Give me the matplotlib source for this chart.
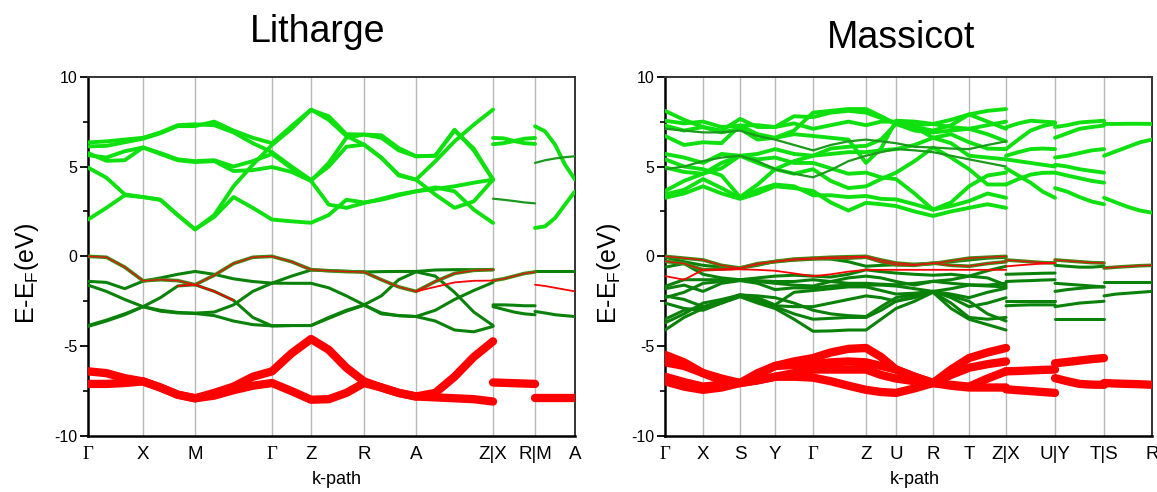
import numpy as np
import matplotlib.pyplot as plt

plt.rcParams['font.family'] = ['Liberation Sans', 'DejaVu Sans']
plt.rcParams['axes.unicode_minus'] = False

# ---------------- Litharge ----------------
lit_ticks = [0, 0.55, 1.07, 1.84, 2.23, 2.76, 3.28, 4.05, 4.47, 4.87]
lit_labels = ['Γ', 'X', 'M', 'Γ', 'Z', 'R', 'A', 'Z|X', 'R|M', 'A']
lit_divs = [3, 3, 4, 2, 3, 3, 4]   # samples per segment, main path Γ ... Z

nan = np.nan

lit_cond = [
    [2.05, 2.7, 3.4, 3.3, 3.15, 2.3, 1.5, 2.2, 3.3, 2.7, 2.05, 1.95, 1.87, 2.3, 3.15, 3.0, 3.15, 3.4, 3.62, 3.84, 3.62, 2.6, 1.86],
    [4.94, 4.38, 3.45, 3.3, 3.15, 2.3, 1.5, 2.3, 3.9, 5.1, 6.2, 7.1, 8.15, 7.8, 6.8, 6.78, 6.74, 6.03, 5.57, 5.6, 7.05, 5.9, 4.27],
    [5.75, 5.32, 5.35, 6.06, 5.7, 5.35, 5.25, 5.3, 4.75, 4.8, 4.97, 4.7, 4.2, 2.88, 2.7, 2.97, 3.2, 3.45, 3.62, 3.75, 3.9, 4.1, 4.27],
    [5.63, 5.5, 5.85, 6.06, 5.75, 5.4, 5.3, 5.35, 5.0, 5.3, 5.7, 4.9, 4.2, 5.2, 6.6, 6.78, 6.6, 5.9, 5.57, 5.6, 7.0, 6.0, 4.27],
    [6.12, 6.15, 6.35, 6.55, 6.85, 7.25, 7.25, 7.5, 7.0, 6.6, 6.3, 7.25, 8.17, 7.6, 6.7, 6.22, 5.48, 4.55, 4.27, 5.29, 6.4, 7.33, 8.17],
    [6.34, 6.4, 6.5, 6.6, 6.9, 7.3, 7.35, 7.3, 6.9, 6.3, 5.8, 5.0, 4.25, 5.0, 6.1, 6.22, 5.5, 4.5, 4.27, 3.44, 2.7, 3.06, 4.27],
]
lit_val = [
    [-1.39, -1.45, -1.8, -1.38, -1.2, -1.0, -0.84, -1.0, -1.25, -1.4, -1.49, -1.1, -0.76, -0.8, -0.83, -0.87, -0.85, -0.84, -0.84, -0.76, -0.74, -0.74, -0.74],
    [-1.6, -1.95, -2.4, -2.8, -2.3, -1.65, -1.58, -1.95, -2.45, -3.4, -3.87, -3.85, -3.85, -3.4, -3.0, -2.7, -3.2, -3.3, -3.35, -3.6, -4.1, -4.2, -3.9],
    [-3.85, -3.55, -3.2, -2.8, -3.0, -3.12, -3.16, -3.1, -2.7, -1.95, -1.49, -1.5, -1.5, -1.75, -2.2, -2.7, -2.2, -1.3, -0.86, -1.1, -2.0, -3.1, -3.85],
    [-3.9, -3.6, -3.25, -2.8, -3.05, -3.15, -3.18, -3.3, -3.6, -3.8, -3.87, -3.85, -3.85, -3.45, -3.05, -2.72, -3.15, -3.3, -3.35, -3.0, -2.4, -1.9, -1.45],
]
lit_rg = [
    [0.0, -0.05, -0.6, -1.36, -1.3, -1.35, -1.58, -1.05, -0.4, -0.05, 0.0, -0.3, -0.74, -0.8, -0.85, -0.87, -1.3, -1.7, -1.95, -1.4, -0.95, -0.78, -0.74],
]
lit_red_thin = [
    [nan, nan, nan, nan, nan, -1.65, -1.58, -1.95, -2.45, nan, nan, nan, nan, nan, nan, nan, nan, nan, -1.95, -1.7, -1.45, -1.36, -1.35],
]
lit_red = [
    [-6.4, -6.5, -6.78, -6.96, -7.3, -7.7, -7.9, -7.6, -7.25, -6.7, -6.4, -5.4, -4.6, -5.2, -6.2, -6.96, -7.3, -7.6, -7.8, -7.6, -6.7, -5.6, -4.73],
    [-7.1, -7.1, -7.05, -6.96, -7.3, -7.7, -7.9, -7.75, -7.45, -7.2, -7.05, -7.5, -7.98, -7.95, -7.6, -7.05, -7.3, -7.6, -7.8, -7.85, -7.9, -7.95, -8.08],
]
# X-R piece
lit_xr_cond = [[6.59, 6.57, 6.42, 6.3, 6.26], [6.24, 6.3, 6.42, 6.55, 6.59]]
lit_xr_dark = [[3.21, 3.15, 3.08, 3.0, 2.95]]
lit_xr_rg = [[-1.35, -1.25, -1.1, -0.95, -0.87]]
lit_xr_val = [[-2.7, -2.7, -2.72, -2.75, -2.75], [-2.8, -2.95, -3.1, -3.2, -3.25]]
lit_xr_red = [[-7.02, -7.04, -7.06, -7.08, -7.1]]
# M-A piece
lit_ma_cond = [[7.24, 6.96, 6.22, 5.1, 4.27], [1.58, 1.67, 2.13, 2.88, 3.62]]
lit_ma_dark = [[5.2, 5.35, 5.45, 5.52, 5.57]]
lit_ma_val = [[-0.84, -0.84, -0.84, -0.84, -0.84], [-3.07, -3.15, -3.25, -3.3, -3.35]]
lit_ma_red_thin = [[-1.58, -1.65, -1.75, -1.85, -1.95]]
lit_ma_red = [[-7.9, -7.9, -7.9, -7.9, -7.9]]

# ---------------- Massicot ----------------
mas_ticks = [0, 0.38, 0.75, 1.10, 1.48, 2.01, 2.31, 2.68, 3.04, 3.41, 3.90, 4.39, 4.87]
mas_labels = ['Γ', 'X', 'S', 'Y', 'Γ', 'Z', 'U', 'R', 'T', 'Z|X', 'U|Y', 'T|S', 'R']
mas_divs = [2, 2, 2, 2, 3, 2, 2, 2, 2]

mas_cond = [
    [3.26, 3.5, 3.9, 3.5, 3.2, 3.5, 3.9, 3.8, 3.64, 3.0, 2.55, 2.98, 2.9, 2.8, 2.5, 2.25, 2.5, 2.7, 2.9, 2.7],
    [3.45, 3.7, 4.3, 3.8, 3.25, 3.7, 4.0, 3.9, 3.4, 3.4, 3.3, 3.36, 3.2, 3.17, 2.9, 2.6, 2.8, 3.08, 3.5, 3.26],
    [3.64, 4.2, 4.6, 4.9, 5.6, 5.2, 4.85, 4.6, 4.85, 4.2, 3.8, 3.9, 4.3, 4.66, 5.3, 6.06, 5.5, 4.85, 4.0, 4.0],
    [4.95, 4.7, 4.6, 5.2, 5.6, 5.4, 5.5, 5.2, 5.2, 4.9, 4.6, 4.66, 4.4, 4.3, 3.5, 2.6, 3.0, 3.9, 4.5, 4.66],
    [5.4, 5.0, 4.85, 4.5, 3.3, 4.0, 4.85, 5.3, 5.6, 5.7, 5.8, 5.8, 5.9, 5.97, 6.2, 6.6, 6.3, 5.6, 5.5, 5.4],
    [5.7, 5.5, 5.2, 5.7, 5.6, 5.7, 5.97, 5.7, 5.6, 6.0, 6.1, 6.15, 6.5, 7.37, 7.2, 6.6, 6.8, 6.35, 6.0, 5.97],
    [6.7, 6.2, 6.35, 6.3, 7.28, 6.8, 6.6, 6.8, 6.7, 6.6, 6.5, 5.2, 6.0, 7.55, 7.5, 7.37, 7.2, 7.1, 6.8, 6.4],
    [7.28, 7.0, 7.2, 7.0, 7.65, 7.2, 7.2, 7.4, 7.1, 7.3, 7.5, 7.3, 7.5, 7.5, 7.3, 7.37, 7.6, 7.9, 7.5, 7.1],
    [7.55, 7.4, 7.5, 7.2, 7.28, 7.3, 7.2, 7.8, 7.75, 8.0, 8.1, 8.0, 7.7, 7.4, 7.2, 7.0, 7.3, 7.9, 8.1, 8.2],
    [8.1, 7.6, 7.2, 6.9, 7.1, 6.5, 6.6, 7.0, 8.0, 8.1, 8.2, 8.2, 7.8, 7.37, 7.0, 6.9, 7.0, 7.1, 7.3, 7.5],
]
mas_dark = [
    [4.85, 5.0, 5.3, 5.5, 5.6, 5.3, 4.85, 4.6, 4.4, 4.8, 5.3, 5.6, 5.8, 5.97, 5.9, 5.8, 5.6, 5.4, 5.2, 5.0],
    [7.1, 7.0, 6.9, 6.9, 7.0, 6.7, 6.5, 6.2, 5.9, 6.2, 6.4, 6.5, 6.4, 6.3, 6.1, 6.06, 6.0, 5.97, 6.2, 6.4],
]
mas_val = [
    [-0.05, -0.3, -0.5, -0.6, -0.65, -0.5, -0.28, -0.2, -0.1, -0.15, -0.3, -0.55, -0.5, -0.47, -0.45, -0.4, -0.3, -0.2, -0.1, -0.05],
    [-0.6, -0.4, -1.0, -1.2, -1.3, -1.2, -1.1, -1.05, -1.1, -1.15, -1.0, -0.75, -0.85, -0.93, -1.0, -1.05, -1.0, -1.1, -0.8, -0.55],
    [-1.67, -1.3, -1.3, -1.3, -1.3, -1.35, -1.4, -1.4, -1.3, -1.4, -1.5, -1.5, -1.55, -1.58, -1.5, -1.39, -1.5, -1.58, -1.6, -1.5],
    [-1.8, -1.6, -1.95, -1.5, -1.35, -1.5, -1.85, -1.75, -1.77, -1.65, -1.6, -1.6, -1.6, -1.65, -1.8, -1.95, -1.8, -1.6, -1.65, -1.7],
    [-2.2, -2.4, -2.8, -2.5, -2.13, -2.3, -2.7, -2.0, -1.9, -1.8, -1.7, -1.7, -1.9, -2.1, -2.05, -1.95, -2.1, -2.3, -2.0, -1.77],
    [-2.6, -2.9, -3.0, -2.6, -2.2, -2.4, -2.75, -2.8, -2.8, -2.6, -2.4, -2.2, -2.3, -2.5, -2.3, -1.95, -2.3, -2.8, -2.6, -2.3],
    [-3.5, -3.0, -2.85, -2.5, -2.2, -2.5, -2.8, -3.2, -3.5, -3.45, -3.4, -3.4, -3.0, -2.5, -2.2, -2.0, -2.6, -3.4, -3.5, -3.4],
    [-4.1, -3.4, -2.9, -2.6, -2.25, -2.6, -2.9, -3.5, -4.17, -4.15, -4.1, -4.1, -3.5, -2.9, -2.5, -2.0, -2.9, -3.5, -3.8, -4.1],
    [-2.3, -2.0, -1.5, -1.4, -1.3, -1.4, -1.5, -1.6, -1.65, -1.4, -1.2, -1.1, -1.2, -1.4, -1.6, -1.39, -1.3, -1.1, -1.2, -1.6],
    [-3.7, -3.2, -2.6, -2.4, -2.15, -2.2, -2.3, -2.6, -3.0, -3.2, -3.3, -3.35, -2.8, -2.3, -2.1, -1.95, -2.2, -2.5, -3.2, -3.6],
]
mas_rg = [
    [0.0, -0.1, -0.2, -0.5, -0.65, -0.45, -0.28, -0.15, -0.1, -0.05, -0.02, 0.0, -0.2, -0.37, -0.45, -0.4, -0.25, -0.1, -0.05, 0.0],
    [-0.28, -0.4, -0.75, -0.7, -0.65, -0.4, -0.3, -0.2, -0.15, -0.12, -0.1, -0.05, -0.3, -0.47, -0.5, -0.37, -0.5, -0.55, -0.4, -0.3],
]
mas_red_thin = [
    [-1.1, -1.3, -0.75, -0.75, -0.72, -0.75, -0.8, -0.95, -1.1, -1.0, -0.85, -0.75, -0.75, -0.75, -0.75, -0.75, -0.75, -0.75, -0.75, -0.75],
]
mas_red = [
    [-5.48, -5.9, -6.5, -6.8, -7.05, -6.6, -6.1, -5.85, -5.66, -5.35, -5.15, -5.1, -5.6, -6.3, -6.7, -7.05, -6.3, -5.66, -5.35, -5.1],
    [-5.9, -6.1, -6.5, -6.9, -7.05, -6.5, -6.1, -6.05, -6.0, -5.9, -5.85, -5.9, -6.1, -6.3, -6.7, -7.05, -6.6, -6.2, -6.0, -5.85],
    [-6.7, -7.0, -7.25, -7.15, -7.05, -6.9, -6.7, -6.5, -6.3, -6.3, -6.3, -6.3, -6.6, -6.8, -6.95, -7.05, -7.15, -7.25, -6.8, -6.4],
    [-6.96, -7.25, -7.43, -7.3, -7.05, -6.9, -6.7, -6.7, -6.75, -6.95, -7.2, -7.43, -7.55, -7.6, -7.35, -7.05, -7.2, -7.3, -7.3, -7.3],
]
# X-U piece
mas_xu_cond = [[7.18, 7.4, 7.55, 7.5, 7.46], [5.97, 6.5, 7.0, 7.25, 7.4], [5.6, 5.8, 5.97, 6.0, 5.97],
               [5.4, 5.3, 5.2, 5.1, 5.0], [4.9, 4.5, 4.1, 3.6, 3.26], [4.0, 4.3, 4.55, 4.65, 4.66]]
mas_xu_rg = [[-0.2, -0.25, -0.3, -0.35, -0.37]]
mas_xu_red_thin = [[-0.56, -0.5, -0.45, -0.4, -0.37]]
mas_xu_val = [[-1.0, -0.98, -0.96, -0.94, -0.93], [-1.4, -1.37, -1.35, -1.32, -1.3],
              [-2.5, -2.5, -2.5, -2.5, -2.5], [-2.75, -2.72, -2.7, -2.7, -2.7]]
mas_xu_red = [[-6.4, -6.38, -6.35, -6.32, -6.3], [-7.4, -7.45, -7.5, -7.55, -7.6]]
# Y-T piece
mas_yt_cond = [[7.2, 7.3, 7.45, 7.5, 7.55], [6.6, 6.85, 7.1, 7.2, 7.28], [5.5, 5.6, 5.75, 5.9, 5.97],
               [5.1, 5.0, 4.85, 4.75, 4.66], [4.66, 4.5, 4.35, 4.2, 4.1], [3.8, 3.6, 3.3, 3.05, 2.9]]
mas_yt_rg = [[-0.2, -0.25, -0.3, -0.35, -0.37]]
mas_yt_val = [[-0.5, -0.55, -0.6, -0.6, -0.55], [-1.5, -1.55, -1.6, -1.65, -1.7], [-1.95, -1.85, -1.78, -1.72, -1.7],
              [-2.8, -2.7, -2.6, -2.55, -2.5], [-3.5, -3.5, -3.5, -3.5, -3.5]]
mas_yt_red = [[-5.95, -5.88, -5.8, -5.72, -5.66], [-6.78, -6.95, -7.1, -7.14, -7.15]]
# S-R piece
mas_sr_cond = [[7.37, 7.37, 7.38, 7.38, 7.37], [5.6, 5.85, 6.1, 6.35, 6.5], [3.26, 3.0, 2.75, 2.55, 2.43]]
mas_sr_rg = [[-0.65, -0.6, -0.56, -0.52, -0.5]]
mas_sr_val = [[-1.4, -1.4, -1.4, -1.4, -1.4], [-2.2, -2.1, -2.05, -2.0, -1.95]]
mas_sr_red = [[-7.05, -7.08, -7.1, -7.12, -7.15]]


def kgrid(ticks, i0, divs):
    ks = [ticks[i0]]
    for j, n in enumerate(divs):
        ks.extend(np.linspace(ticks[i0 + j], ticks[i0 + j + 1], n + 1)[1:])
    return np.array(ks)


BRIGHT = '#0fe00f'
DARK = '#0a820a'
RED = '#ff0000'


def draw_piece(ax, k, cond=(), dark=(), val=(), rg=(), red_thin=(), red=()):
    kw = dict(solid_capstyle='round', solid_joinstyle='round')
    for e in cond:
        ax.plot(k, e, color=BRIGHT, lw=2.8, zorder=3, **kw)
    for e in dark:
        ax.plot(k, e, color='#1a9a1a', lw=1.6, zorder=3, **kw)
    for e in val:
        ax.plot(k, e, color=DARK, lw=2.2, zorder=3, **kw)
    for e in rg:
        ax.plot(k, e, color='#3f8a12', lw=2.6, zorder=4, **kw)
        ax.plot(k, e, color='#e81010', lw=0.9, zorder=5, **kw)
    for e in red_thin:
        ax.plot(k, e, color=RED, lw=1.3, zorder=5, **kw)
    for e in red:
        ax.plot(k, e, color=RED, lw=6, zorder=4, **kw)


def style_axes(ax, ticks, labels):
    ax.set_xlim(ticks[0], ticks[-1])
    ax.set_ylim(-10, 10)
    for t in ticks[1:-1]:
        ax.axvline(t, color='#b8b8b8', lw=1.0, zorder=1)
    ax.set_xticks(ticks)
    ax.set_xticklabels(labels, fontsize=13.5)
    for lab in ax.get_xticklabels():
        if lab.get_text() == 'Γ':
            lab.set_fontfamily('Liberation Serif')
    ax.set_yticks([-10, -5, 0, 5, 10])
    ax.set_yticks([-7.5, -2.5, 2.5, 7.5], minor=True)
    ax.tick_params(axis='x', length=0, pad=7)
    ax.tick_params(axis='y', which='major', length=6, width=1.3, labelsize=11.5, pad=1.5)
    ax.tick_params(axis='y', which='minor', length=3.5, width=1.2)
    for s in ['left', 'bottom']:
        ax.spines[s].set_linewidth(1.8)
    for s in ['top', 'right']:
        ax.spines[s].set_linewidth(1.4)
        ax.spines[s].set_color('#333333')


fig = plt.figure(figsize=(11.57, 4.92), dpi=100)
ax1 = fig.add_axes([0.0761, 0.1138, 0.4209, 0.7303])
ax2 = fig.add_axes([0.5748, 0.1138, 0.4209, 0.7303])

# Litharge
k_main = kgrid(lit_ticks, 0, lit_divs)
draw_piece(ax1, k_main, cond=lit_cond, val=lit_val, rg=lit_rg, red_thin=lit_red_thin, red=lit_red)
k_xr = kgrid(lit_ticks, 7, [4])
draw_piece(ax1, k_xr, cond=lit_xr_cond, dark=lit_xr_dark, val=lit_xr_val, rg=lit_xr_rg, red=lit_xr_red)
k_ma = kgrid(lit_ticks, 8, [4])
draw_piece(ax1, k_ma, cond=lit_ma_cond, dark=lit_ma_dark, val=lit_ma_val, red_thin=lit_ma_red_thin, red=lit_ma_red)
style_axes(ax1, lit_ticks, lit_labels)

# Massicot
k_main = kgrid(mas_ticks, 0, mas_divs)
draw_piece(ax2, k_main, cond=mas_cond, dark=mas_dark, val=mas_val, rg=mas_rg, red_thin=mas_red_thin, red=mas_red)
k_xu = kgrid(mas_ticks, 9, [4])
draw_piece(ax2, k_xu, cond=mas_xu_cond, val=mas_xu_val, rg=mas_xu_rg, red_thin=mas_xu_red_thin, red=mas_xu_red)
k_yt = kgrid(mas_ticks, 10, [4])
draw_piece(ax2, k_yt, cond=mas_yt_cond, val=mas_yt_val, rg=mas_yt_rg, red=mas_yt_red)
k_sr = kgrid(mas_ticks, 11, [4])
draw_piece(ax2, k_sr, cond=mas_sr_cond, val=mas_sr_val, rg=mas_sr_rg, red=mas_sr_red)
style_axes(ax2, mas_ticks, mas_labels)

fig.text(318 / 1157, 1 - 32 / 492, 'Litharge', fontsize=27, ha='center', va='center')
fig.text(901 / 1157, 1 - 38 / 492, 'Massicot', fontsize=27, ha='center', va='center')
for x in (27, 609):
    fig.text(x / 1157, 1 - 273 / 492, 'E-E$_\\mathregular{F}$(eV)', fontsize=18,
             rotation=90, ha='center', va='center')
fig.text(337 / 1157, 1 - 480 / 492, 'k-path', fontsize=13, ha='center', va='center')
fig.text(915 / 1157, 1 - 480 / 492, 'k-path', fontsize=13, ha='center', va='center')

fig.savefig('out.png', dpi=100)
